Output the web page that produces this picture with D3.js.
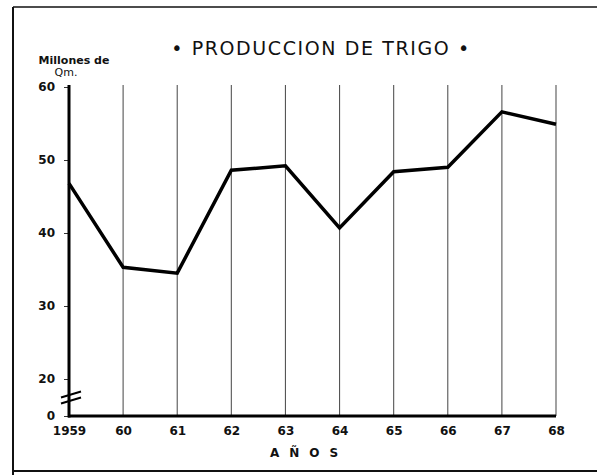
<!DOCTYPE html>
<html><head><meta charset="utf-8">
<script src="https://cdn.jsdelivr.net/npm/d3@7"></script>
<style>body{margin:0;background:#fff}svg{display:block}</style>
</head><body>
<script>
const years = [1959,1960,1961,1962,1963,1964,1965,1966,1967,1968];
const yearLabels = ["1959","60","61","62","63","64","65","66","67","68"];
const production = [46.8,35.3,34.5,48.6,49.2,40.7,48.4,49.0,56.6,54.9];
const yTicks = [0,20,30,40,50,60];
const title = "• PRODUCCION DE TRIGO •";

const W=597,H=475;
const svg=d3.select("body").append("svg").attr("width",W).attr("height",H);
const ff="'DejaVu Sans', sans-serif";

// frame
svg.append("line").attr("x1",13).attr("x2",597).attr("y1",7).attr("y2",7).attr("stroke","#111").attr("stroke-width",1.5);
svg.append("line").attr("x1",13).attr("x2",13).attr("y1",7).attr("y2",475).attr("stroke","#111").attr("stroke-width",2);
svg.append("line").attr("x1",13).attr("x2",597).attr("y1",471).attr("y2",471).attr("stroke","#111").attr("stroke-width",2);

const x=d3.scaleLinear().domain([1959,1968]).range([69,556]);
const y=d3.scaleLinear().domain([0,20,60]).range([416,379,87]);

// vertical grid
svg.append("g").selectAll("line").data(years.slice(1)).join("line")
  .attr("x1",d=>x(d)).attr("x2",d=>x(d)).attr("y1",85).attr("y2",y(0))
  .attr("stroke","#555").attr("stroke-width",1.1);

// y axis
const yAxis=d3.axisLeft(y).tickValues(yTicks).tickSize(5).tickPadding(9).tickFormat(d3.format("d"));
const gy=svg.append("g").attr("transform",`translate(${x(1959)},0)`).call(yAxis);
gy.select(".domain").remove();
gy.selectAll("text").attr("font-family",ff).attr("font-size",12).attr("font-weight","bold").attr("fill","#111");
gy.selectAll("line").attr("stroke","#333");
svg.append("line").attr("x1",x(1959)).attr("x2",x(1959)).attr("y1",85).attr("y2",y(0)+1.5).attr("stroke","#000").attr("stroke-width",3);

// x axis
const xAxis=d3.axisBottom(x).tickValues(years).tickSize(0).tickPadding(10).tickFormat((d,i)=>yearLabels[i]);
const gx=svg.append("g").attr("transform",`translate(0,${y(0)})`).call(xAxis);
gx.select(".domain").remove();
gx.selectAll("text").attr("font-family",ff).attr("font-size",12).attr("font-weight","bold").attr("fill","#111");
svg.append("line").attr("x1",x(1959)-1).attr("x2",x(1968)).attr("y1",y(0)).attr("y2",y(0)).attr("stroke","#000").attr("stroke-width",3);

// axis break
const by=(y(0)+y(20))/2;
[-3,3].forEach(o=>{
  svg.append("line").attr("x1",x(1959)-8).attr("x2",x(1959)+12).attr("y1",by+o+3).attr("y2",by+o-3)
    .attr("stroke","#000").attr("stroke-width",2);
});

// line
svg.append("path").datum(years.map((d,i)=>[d,production[i]]))
  .attr("d",d3.line().x(d=>x(d[0])).y(d=>y(d[1])))
  .attr("fill","none").attr("stroke","#000").attr("stroke-width",3.5).attr("stroke-linejoin","miter");

// texts
svg.append("text").attr("x",321).attr("y",55).attr("text-anchor","middle").attr("font-family",ff)
  .attr("font-size",19).attr("letter-spacing",1.6).attr("fill","#111").text(title);
svg.append("text").attr("x",74).attr("y",64).attr("text-anchor","middle").attr("font-family",ff)
  .attr("font-size",11).attr("font-weight","bold").attr("fill","#111").text("Millones de");
svg.append("text").attr("x",66).attr("y",76).attr("text-anchor","middle").attr("font-family",ff)
  .attr("font-size",11).attr("fill","#111").text("Qm.");
svg.append("text").attr("x",309).attr("y",457).attr("text-anchor","middle").attr("font-family",ff)
  .attr("font-size",12).attr("font-weight","bold").attr("letter-spacing",10).attr("fill","#111").text("AÑOS");
</script>
</body></html>
